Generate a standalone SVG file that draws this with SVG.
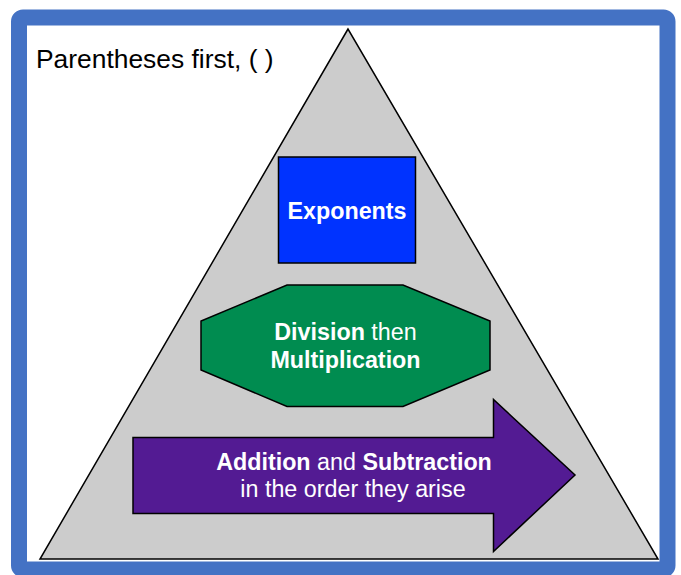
<svg xmlns="http://www.w3.org/2000/svg" width="681" height="575" viewBox="0 0 681 575">
<style>
text{font-family:"Liberation Sans",Arial,Helvetica,sans-serif;fill:#fff;font-size:23.3px;text-anchor:middle}
.b{font-weight:bold}
.shape{stroke:#000;stroke-width:1.5}
</style>
<rect x="0" y="0" width="681" height="575" fill="#fff"/>
<g id="frame"><rect x="19" y="17.5" width="648.5" height="552" rx="4" fill="#fff" stroke="#4472C4" stroke-width="16"/></g>
<g id="pyramid"><polygon class="shape" points="348,29 40,559 658,559" fill="#CCCCCC"/></g>
<g id="parentheses"><text x="36" y="68" style="fill:#000;font-size:26.4px;text-anchor:start">Parentheses first, ( )</text></g>
<g id="exponents">
<rect class="shape" x="278.5" y="157" width="137" height="106" fill="#0033FF"/>
<text class="b" x="347" y="219">Exponents</text>
</g>
<g id="division">
<polygon class="shape" points="287,285 403,285 490,321 490,370 403,406.5 287,406.5 201,370 201,321" fill="#008C50"/>
<text x="345.5" y="340"><tspan class="b">Division</tspan> then</text>
<text class="b" x="345.5" y="368">Multiplication</text>
</g>
<g id="addition">
<polygon class="shape" points="133,437.5 493.5,437.5 493.5,399.5 575,475 493.5,551.5 493.5,513.5 133,513.5" fill="#531B93"/>
<text x="354" y="470"><tspan class="b">Addition</tspan> and <tspan class="b">Subtraction</tspan></text>
<text x="353" y="497">in the order they arise</text>
</g>
<g id="connectors"/>
</svg>
